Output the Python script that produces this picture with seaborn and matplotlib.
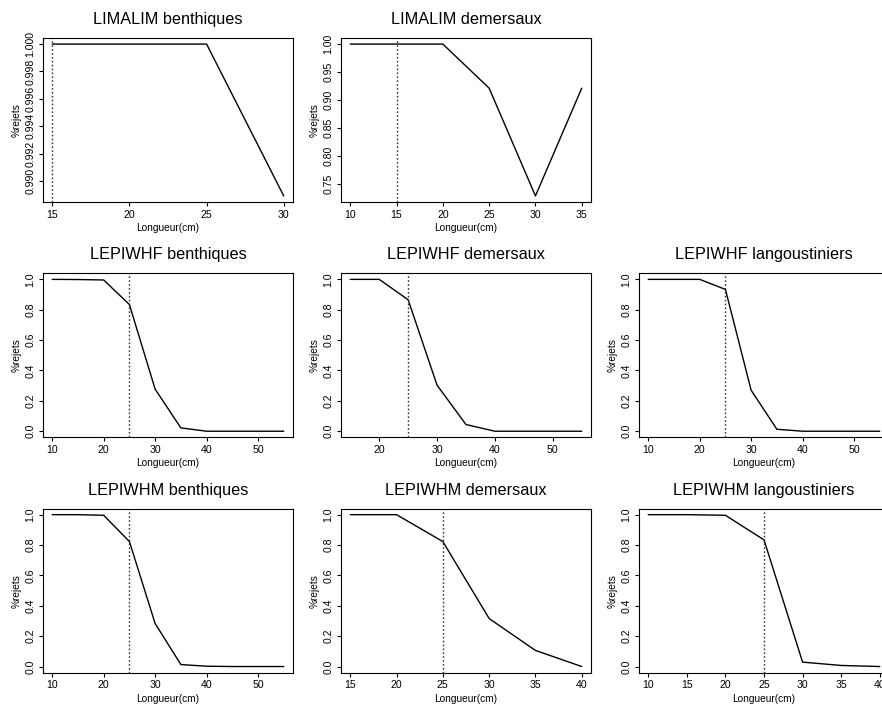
import numpy as np
import pandas as pd
import matplotlib
matplotlib.use("Agg")
import matplotlib.pyplot as plt
import seaborn as sns

# ---------------- data ----------------
titles = ["LIMALIM benthiques", "LIMALIM demersaux",
          "LEPIWHF benthiques", "LEPIWHF demersaux", "LEPIWHF langoustiniers",
          "LEPIWHM benthiques", "LEPIWHM demersaux", "LEPIWHM langoustiniers"]

limalim_benth_x = [15, 20, 25, 30]
limalim_benth_y = [1.0, 1.0, 1.0, 0.9889]

limalim_dem_x = [10, 15, 20, 25, 30, 35]
limalim_dem_y = [1.0, 1.0, 1.0, 0.921, 0.728, 0.921]

lepiwhf_benth_x = [10, 15, 20, 25, 30, 35, 40, 45, 50, 55]
lepiwhf_benth_y = [1.0, 0.999, 0.996, 0.834, 0.277, 0.022, 0.0, 0.0, 0.0, 0.0]

lepiwhf_dem_x = [15, 20, 25, 30, 35, 40, 45, 50, 55]
lepiwhf_dem_y = [1.0, 1.0, 0.866, 0.303, 0.044, 0.0, 0.0, 0.0, 0.0]

lepiwhf_lang_x = [10, 15, 20, 25, 30, 35, 40, 45, 50, 55]
lepiwhf_lang_y = [1.0, 1.0, 1.0, 0.934, 0.270, 0.013, 0.0, 0.0, 0.0, 0.0]

lepiwhm_benth_x = [10, 15, 20, 25, 30, 35, 40, 45, 50, 55]
lepiwhm_benth_y = [1.0, 1.0, 0.996, 0.823, 0.283, 0.013, 0.002, 0.0, 0.0, 0.0]

lepiwhm_dem_x = [15, 20, 25, 30, 35, 40]
lepiwhm_dem_y = [1.0, 1.0, 0.823, 0.316, 0.106, 0.0]

lepiwhm_lang_x = [10, 15, 20, 25, 30, 35, 40]
lepiwhm_lang_y = [1.0, 1.0, 0.996, 0.834, 0.029, 0.007, 0.0]

taille_min = [15, 15, 25, 25, 25, 25, 25, 25]   # dotted reference lines

xticks = [[15, 20, 25, 30], [10, 15, 20, 25, 30, 35],
          [10, 20, 30, 40, 50], [20, 30, 40, 50], [10, 20, 30, 40, 50],
          [10, 20, 30, 40, 50], [15, 20, 25, 30, 35, 40], [10, 15, 20, 25, 30, 35, 40]]
yticks = [[0.990, 0.992, 0.994, 0.996, 0.998, 1.000],
          [0.75, 0.80, 0.85, 0.90, 0.95, 1.00]] + [[0.0, 0.2, 0.4, 0.6, 0.8, 1.0]] * 6
ytick_fmt = ["{:.3f}", "{:.2f}"] + ["{:.1f}"] * 6

series_x = [limalim_benth_x, limalim_dem_x, lepiwhf_benth_x, lepiwhf_dem_x,
            lepiwhf_lang_x, lepiwhm_benth_x, lepiwhm_dem_x, lepiwhm_lang_x]
series_y = [limalim_benth_y, limalim_dem_y, lepiwhf_benth_y, lepiwhf_dem_y,
            lepiwhf_lang_y, lepiwhm_benth_y, lepiwhm_dem_y, lepiwhm_lang_y]
grid_pos = [(0, 0), (0, 1), (1, 0), (1, 1), (1, 2), (2, 0), (2, 1), (2, 2)]

# ---------------- style ----------------
sns.set_style("white")
plt.rcParams['font.family'] = ['Liberation Sans', 'DejaVu Sans']

W, H = 882, 706
fig = plt.figure(figsize=(W / 100, H / 100), dpi=100)
fig.patch.set_facecolor("white")

COL_W, ROW_H = 298, 235.3
AX_L, AX_T, AX_W, AX_H = 43, 38, 250, 164

for i in range(len(titles)):
    r, c = grid_pos[i]
    left = (c * COL_W + AX_L) / W
    bottom = 1 - (r * ROW_H + AX_T + AX_H) / H
    ax = fig.add_axes([left, bottom, AX_W / W, AX_H / H])
    df = pd.DataFrame({"Longueur": series_x[i], "rejets": series_y[i]})
    sns.lineplot(data=df, x="Longueur", y="rejets", ax=ax, color="black",
                 linewidth=1.0, legend=False)
    ax.axvline(taille_min[i], color="#333333", linestyle=(0, (1.2, 1.6)), linewidth=1.0)

    xmin, xmax = min(series_x[i]), max(series_x[i])
    ymin, ymax = min(series_y[i]), max(series_y[i])
    xr, yr = xmax - xmin, ymax - ymin
    ax.set_xlim(xmin - 0.04 * xr, xmax + 0.04 * xr)
    ax.set_ylim(ymin - 0.04 * yr, ymax + 0.04 * yr)

    ax.set_xticks(xticks[i])
    ax.set_xticklabels([str(v) for v in xticks[i]])
    ax.set_yticks(yticks[i])
    ax.set_yticklabels([ytick_fmt[i].format(v) for v in yticks[i]],
                       rotation=90, va="center")

    ax.set_title(titles[i], fontsize=11.7, pad=10, color="black")
    ax.set_xlabel("Longueur(cm)", fontsize=7.3, labelpad=2.5, color="black")
    ax.set_ylabel("%rejets", fontsize=7.3, labelpad=3, color="black")

    for s in ax.spines.values():
        s.set_color("black")
        s.set_linewidth(0.8)
        s.set_visible(True)
    ax.tick_params(direction="out", length=3, width=0.8, labelsize=7.6, pad=2.5,
                   color="black", labelcolor="black", bottom=True, left=True)
    ax.grid(False)

fig.savefig("out.png", dpi=100, facecolor="white")
